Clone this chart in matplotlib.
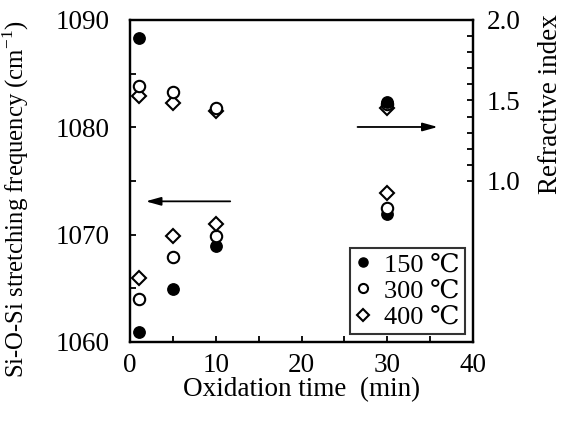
import matplotlib
matplotlib.use("Agg")
import matplotlib.pyplot as plt
import numpy as np

plt.rcParams['font.family'] = ['Liberation Serif', 'DejaVu Serif']
plt.rcParams['mathtext.fontset'] = 'custom'
plt.rcParams['mathtext.rm'] = 'Liberation Serif'

# oxidation time (min)
time = [1, 5, 10, 30]

# Si-O-Si stretching frequency (cm-1), left axis
freq_150 = [1060.9, 1064.9, 1068.9, 1071.9]
freq_300 = [1064.0, 1067.9, 1069.9, 1072.5]
freq_400 = [1066.0, 1069.9, 1071.0, 1073.9]

# refractive index, right axis
ri_time_150 = [1, 30]
ri_150 = [1.89, 1.49]
ri_300 = [1.59, 1.55, 1.453, 1.475]
ri_400 = [1.528, 1.483, 1.437, 1.453]

labels = ['150 \u2103', '300 \u2103', '400 \u2103']

fs = 19.5
fig = plt.figure(figsize=(5.68, 4.23), dpi=100)
ax = fig.add_axes([0.229, 0.1915, 0.604, 0.7615])
ax2 = ax.twinx()

ms = 8.2
msd = 7.2
mew = 1.5
h1, = ax.plot(time, freq_150, 'o', color='black', ms=ms, ls='none', label=labels[0])
h2, = ax.plot(time, freq_300, 'o', mfc='white', mec='black', mew=mew, ms=ms, ls='none', label=labels[1])
h3, = ax.plot(time, freq_400, 'D', mfc='white', mec='black', mew=mew, ms=msd, ls='none', label=labels[2])

ax2.plot(time, ri_400, 'D', mfc='white', mec='black', mew=mew, ms=msd, ls='none')
ax2.plot(time, ri_300, 'o', mfc='white', mec='black', mew=mew, ms=ms, ls='none')
ax2.plot(ri_time_150, ri_150, 'o', color='black', ms=ms, ls='none')

ax.set_xlim(0, 40)
ax.set_ylim(1060, 1090)
ax2.set_ylim(0, 2.0)

ax.set_xticks([0, 10, 20, 30, 40])
ax.set_xticks(np.arange(5, 40, 10), minor=True)
ax.set_yticks([1060, 1070, 1080, 1090])
ax.set_yticks([1065, 1075, 1085], minor=True)
ax2.set_yticks([1.0, 1.5, 2.0])
ax2.set_yticklabels(['1.0', '1.5', '2.0'])
ax2.set_yticks(np.arange(1.1, 2.0, 0.1), minor=True)

for a in (ax, ax2):
    a.tick_params(which='both', direction='in', length=4.5, width=1.3, labelsize=fs)
    for s in a.spines.values():
        s.set_linewidth(1.6)
ax.tick_params(axis='y', which='both', top=False, right=False, pad=15)
ax.tick_params(axis='x', which='both', top=False, pad=8)
ax2.tick_params(which='both', left=False, right=True, pad=10)

ax.set_xlabel('Oxidation time  (min)', fontsize=fs, labelpad=-1)
ax.set_ylabel('Si-O-Si stretching frequency (cm$^{\\mathregular{-1}}$)', fontsize=17.8)
ax.yaxis.set_label_coords(-0.29, 0.445)
ax2.set_ylabel('Refractive index', fontsize=fs)
ax2.yaxis.set_label_coords(1.19, 0.74)

ax.annotate('', xy=(1.5, 1073.1), xytext=(12, 1073.1),
            arrowprops=dict(arrowstyle='-|>,head_length=0.9,head_width=0.25', color='black', lw=1.3))
ax2.annotate('', xy=(36.2, 1.335), xytext=(26.2, 1.335),
             arrowprops=dict(arrowstyle='-|>,head_length=0.9,head_width=0.25', color='black', lw=1.3))

leg = ax.legend(handles=[h1, h2, h3], loc='lower right', fontsize=19, frameon=True,
                fancybox=False, edgecolor='black', handlelength=0.6, handletextpad=0.5,
                borderpad=0.2, labelspacing=0.1, borderaxespad=0.3, markerscale=0.8)
leg.get_frame().set_linewidth(1.5)
leg.set_zorder(5)

fig.savefig('out.png', dpi=100)
